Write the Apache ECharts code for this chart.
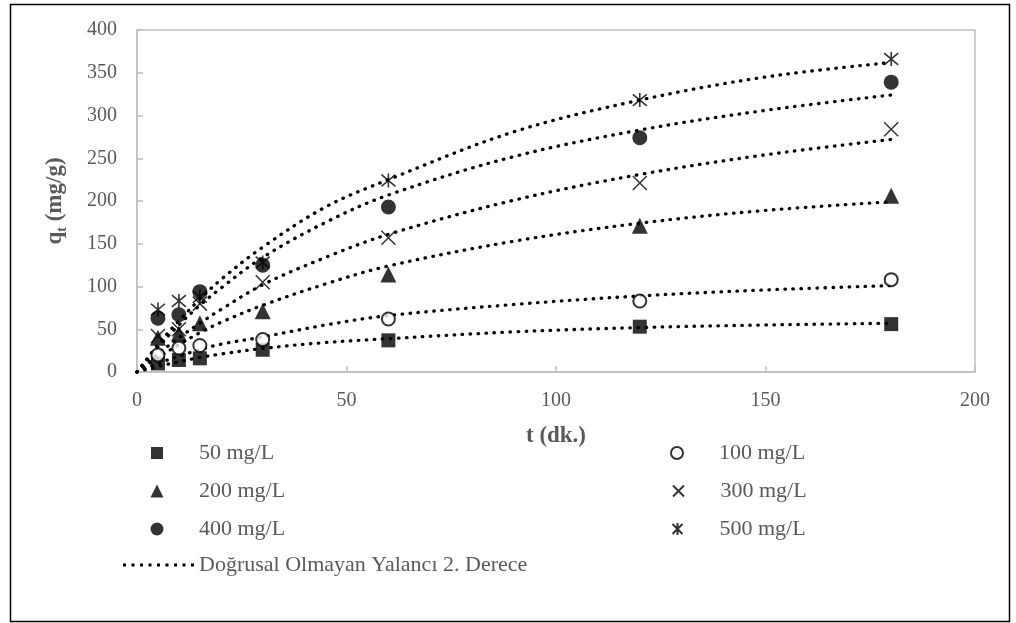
<!DOCTYPE html>
<html>
<head>
<meta charset="utf-8">
<script src="https://cdn.jsdelivr.net/npm/echarts@6/dist/echarts.min.js"></script>
<style>html,body{margin:0;padding:0;background:#fff}#c{width:1016px;height:623px}</style>
</head>
<body>
<div id="c"></div>
<script>
// Measured data (t in minutes, q in mg/g)
const tData = [5, 10, 15, 30, 60, 120, 180];
const q50  = [10, 14, 16, 26, 37, 53, 56];
const q100 = [20, 28, 31, 38, 62, 83, 108];
const q200 = [40, 45, 57, 71, 114, 171, 206];
const q300 = [42, 50, 80, 105, 157, 221, 284];
const q400 = [63, 67, 94, 125, 193, 274, 339];
const q500 = [73, 83, 88, 128, 224, 318, 366];

// Fitted curves
const tFit = [0, 5, 10, 15, 20, 30, 45, 60, 90, 120, 150, 180];
const fit50  = [0, 6.5, 12, 17, 21, 27.5, 34.5, 39, 47, 52, 55, 57];
const fit100 = [0, 10, 18.5, 26, 32.5, 41, 55, 66, 79, 89, 96, 101];
const fit200 = [0, 17, 32, 46, 58, 78, 103, 124, 153, 174, 189, 199];
const fit300 = [0, 21, 40, 57, 73, 102, 134, 161, 201, 231, 254, 272];
const fit400 = [0, 29, 55, 78, 98, 134, 175, 207, 252, 283, 306, 324];
const fit500 = [0, 32, 60, 85, 108, 146, 193, 225, 281, 318, 345, 362];

const seriesNames = ['50 mg/L', '100 mg/L', '200 mg/L', '300 mg/L', '400 mg/L', '500 mg/L'];
const fitName = 'Doğrusal Olmayan Yalancı 2. Derece';
const xTicks = [0, 50, 100, 150, 200];
const yTicks = [0, 50, 100, 150, 200, 250, 300, 350, 400];

const FONT = '"Liberation Serif", "Times New Roman", serif';
const GRAY = '#595959';
const AXIS = '#bfbfbf';

const pair = (xs, ys) => xs.map((x, i) => [x, ys[i]]);
const qs = [q50, q100, q200, q300, q400, q500];
const fits = [fit50, fit100, fit200, fit300, fit400, fit500];

const X_PATH = 'path://M0,0L10,10M10,0L0,10';
const AST_PATH = 'path://M0,0L10,10M10,0L0,10M5,-1L5,11';

const markerStyles = [
  { symbol: 'rect', symbolSize: 14, itemStyle: { color: '#000' } },
  { symbol: 'circle', symbolSize: 13, itemStyle: { color: '#fff', borderColor: '#000', borderWidth: 2 } },
  { symbol: 'triangle', symbolSize: 16, itemStyle: { color: '#000' } },
  { symbol: X_PATH, symbolSize: 14, itemStyle: { color: 'none', borderColor: '#000', borderWidth: 1.5 } },
  { symbol: 'circle', symbolSize: 15, itemStyle: { color: '#000' } },
  { symbol: AST_PATH, symbolSize: 14, itemStyle: { color: 'none', borderColor: '#000', borderWidth: 1.6 } }
];
const legendIconSize = [12, 12, 13, 11, 13, 12];

const series = [];
fits.forEach((f) => {
  series.push({
    name: fitName,
    type: 'line',
    data: pair(tFit, f),
    smooth: 0.35,
    symbol: 'none',
    silent: true,
    z: 2,
    lineStyle: { color: '#000', width: 3.3, type: [0.5, 7.5], cap: 'round' },
    itemStyle: { color: '#000' }
  });
});
qs.forEach((q, i) => {
  series.push(Object.assign({
    name: seriesNames[i],
    type: 'scatter',
    data: pair(tData, q),
    z: 3
  }, markerStyles[i]));
});

// dotted legend icon for the fitted curve
let dotPath = 'path://';
for (let k = 0; k < 9; k++) {
  const x0 = k * 8.5;
  dotPath += 'M' + x0 + ',0h3v3h-3z';
}

const LEG_FONT = 22;
const legendCenters = [
  [157, 453], [676, 453],
  [157, 491], [676, 491],
  [157, 529], [676, 529]
];
const legends = seriesNames.map((n, i) => {
  const s = legendIconSize[i];
  return {
    data: [n],
    padding: 0,
    left: legendCenters[i][0] - s / 2,
    top: legendCenters[i][1] - 11,
    itemWidth: s, itemHeight: s, itemGap: 0,
    selectedMode: false,
    textStyle: { fontFamily: FONT, fontSize: LEG_FONT, color: GRAY, padding: [0, 0, 0, 42 - s / 2 - 5] }
  };
});
legends.push({
  data: [{ name: fitName, icon: dotPath }],
  padding: 0,
  left: 123, top: 565 - 11,
  itemWidth: 71, itemHeight: 3,
  selectedMode: false,
  textStyle: { fontFamily: FONT, fontSize: LEG_FONT, color: GRAY }
});

const chart = echarts.init(document.getElementById('c'), null, { renderer: 'canvas' });
chart.setOption({
  animation: false,
  backgroundColor: '#fff',
  grid: { left: 137, right: 41, top: 30, bottom: 251, show: true, borderColor: AXIS, borderWidth: 1.5, containLabel: false },
  xAxis: {
    type: 'value', min: xTicks[0], max: xTicks[xTicks.length - 1], interval: 50,
    name: 't (dk.)', nameLocation: 'middle', nameGap: 53,
    nameTextStyle: { fontFamily: FONT, fontSize: 23, fontWeight: 'bold', color: GRAY },
    axisLine: { show: true, lineStyle: { color: AXIS, width: 1.5 } },
    axisTick: { show: true, inside: true, length: 6, lineStyle: { color: AXIS, width: 1.5 } },
    axisLabel: { fontFamily: FONT, fontSize: 20, color: GRAY, margin: 19 },
    splitLine: { show: false }
  },
  yAxis: {
    type: 'value', min: yTicks[0], max: yTicks[yTicks.length - 1], interval: 50,
    name: '{a|q}{b|t}{a| (mg/g)}', nameLocation: 'middle', nameGap: 68, nameRotate: 90,
    nameTextStyle: {
      color: GRAY,
      rich: {
        a: { fontFamily: FONT, fontSize: 23, fontWeight: 'bold', color: GRAY, lineHeight: 28 },
        b: { fontFamily: FONT, fontSize: 14, fontWeight: 'bold', color: GRAY, lineHeight: 28, verticalAlign: 'bottom' }
      }
    },
    axisLine: { show: true, lineStyle: { color: AXIS, width: 1.5 } },
    axisTick: { show: true, inside: true, length: 6, lineStyle: { color: AXIS, width: 1.5 } },
    axisLabel: { fontFamily: FONT, fontSize: 20, color: GRAY, margin: 20 },
    splitLine: { show: false }
  },
  legend: legends,
  graphic: [{
    type: 'rect', left: 8, top: 2, silent: true, z: 100,
    shape: { width: 999, height: 617 },
    style: { fill: 'none', stroke: '#000', lineWidth: 1.5 }
  }],
  series: series
});
</script>
</body>
</html>
